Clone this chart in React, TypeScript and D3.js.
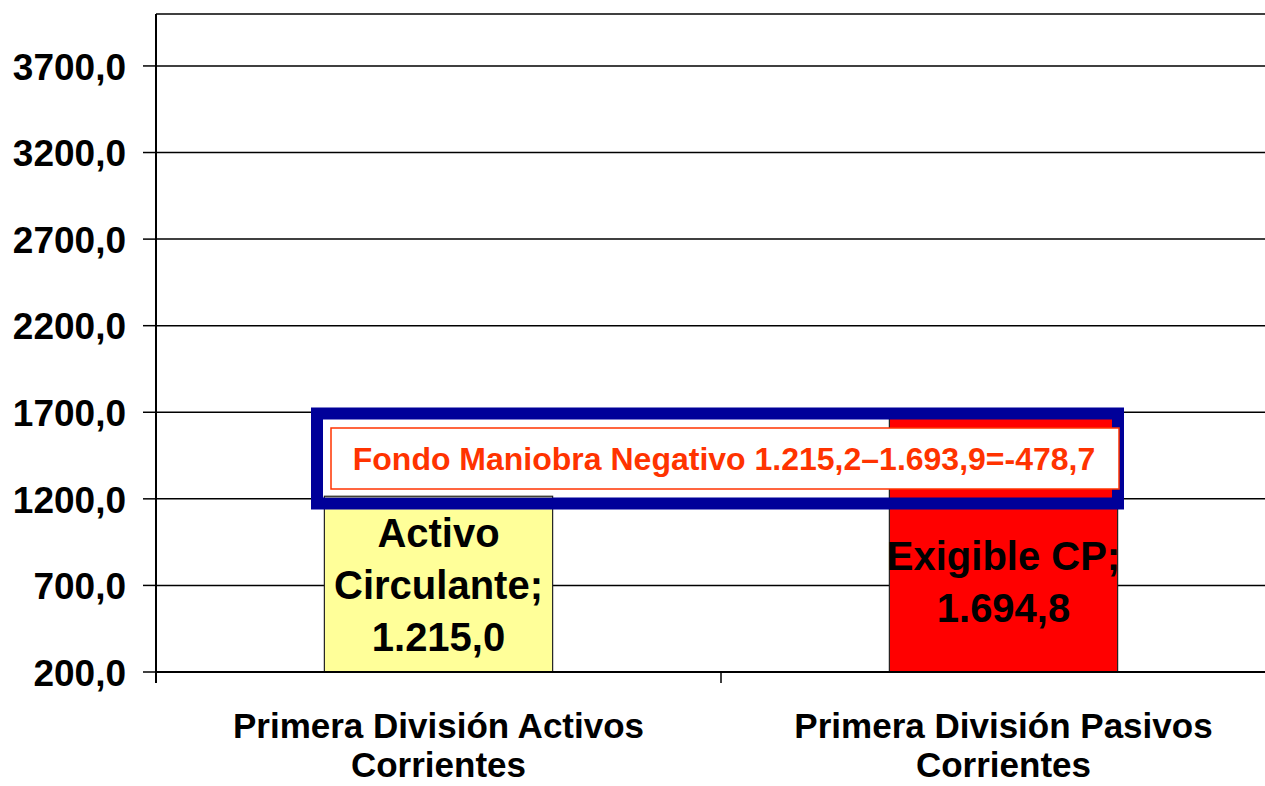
import React, { useEffect, useRef } from "react";
import * as d3 from "d3";

// data
const categories = ["Primera División Activos Corrientes", "Primera División Pasivos Corrientes"];
const categoryLines = [
  ["Primera División Activos", "Corrientes"],
  ["Primera División Pasivos", "Corrientes"],
];
const values = [1215.0, 1694.8];
const barLabels = [
  ["Activo", "Circulante;", "1.215,0"],
  ["Exigible CP;", "1.694,8"],
];
const barColors = ["#FFFF99", "#FF0000"];
const yTicks = [200, 700, 1200, 1700, 2200, 2700, 3200, 3700];
const yMin = 200;
const yMax = 4000;
const noteText = "Fondo Maniobra Negativo 1.215,2\u20131.693,9=-478,7";

const W = 1265,
  H = 786;

export default function App() {
  const ref = useRef<SVGSVGElement>(null);

  useEffect(() => {
    const svg = d3.select(ref.current);
    svg.selectAll("*").remove();

    const left = 156,
      right = 1286, // plot runs a little past the right edge
      top = 14,
      bottom = 672;

    const x = d3.scaleBand().domain(categories).range([left, right]).padding(0);
    const y = d3.scaleLinear().domain([yMin, yMax]).range([bottom, top]);
    const font = "Arial, 'Liberation Sans', sans-serif";

    // gridlines
    svg.append("g")
      .selectAll("line")
      .data(yTicks)
      .join("line")
      .attr("x1", left)
      .attr("x2", W)
      .attr("y1", (d) => y(d))
      .attr("y2", (d) => y(d))
      .attr("stroke", "#000")
      .attr("stroke-width", 1.5);

    // top border of plot
    svg.append("line")
      .attr("x1", left).attr("x2", W)
      .attr("y1", y(yMax)).attr("y2", y(yMax))
      .attr("stroke", "#000").attr("stroke-width", 1.5);

    // bars
    const barW = x.bandwidth() * 0.404;
    svg.append("g")
      .selectAll("rect")
      .data(values)
      .join("rect")
      .attr("x", (d, i) => x(categories[i])! + (x.bandwidth() - barW) / 2)
      .attr("y", (d) => y(d))
      .attr("width", barW)
      .attr("height", (d) => y(yMin) - y(d))
      .attr("fill", (d, i) => barColors[i])
      .attr("stroke", "#222")
      .attr("stroke-width", 1.2);

    // y axis
    svg.append("line")
      .attr("x1", left).attr("x2", left)
      .attr("y1", top).attr("y2", bottom + 11)
      .attr("stroke", "#000").attr("stroke-width", 2);
    svg.append("g")
      .selectAll("line")
      .data(yTicks)
      .join("line")
      .attr("x1", left - 13).attr("x2", left)
      .attr("y1", (d) => y(d)).attr("y2", (d) => y(d))
      .attr("stroke", "#000").attr("stroke-width", 1.5);
    svg.append("g")
      .selectAll("text")
      .data(yTicks)
      .join("text")
      .attr("x", 126)
      .attr("y", (d) => y(d))
      .attr("dy", "0.37em")
      .attr("text-anchor", "end")
      .style("font-family", font)
      .style("font-weight", "bold")
      .style("font-size", "37px")
      .text((d) => d3.format(".1f")(d).replace(".", ","));

    // x axis
    svg.append("line")
      .attr("x1", left).attr("x2", W)
      .attr("y1", bottom).attr("y2", bottom)
      .attr("stroke", "#000").attr("stroke-width", 2);
    svg.append("g")
      .selectAll("line")
      .data([...categories.map((c) => x(c)!), right])
      .join("line")
      .attr("x1", (d) => d).attr("x2", (d) => d)
      .attr("y1", bottom).attr("y2", bottom + 11)
      .attr("stroke", "#000").attr("stroke-width", 1.5);

    categories.forEach((c, i) => {
      const cx = x(c)! + x.bandwidth() / 2;
      categoryLines[i].forEach((line, j) => {
        svg.append("text")
          .attr("x", cx)
          .attr("y", 738 + j * 39)
          .attr("text-anchor", "middle")
          .style("font-family", font)
          .style("font-weight", "bold")
          .style("font-size", "35px")
          .text(line);
      });
    });

    // data labels
    const labelShift = [0, 39]; // second label sits lower than the bar middle
    values.forEach((v, i) => {
      const cx = x(categories[i])! + x.bandwidth() / 2;
      const mid = (y(v) + y(yMin)) / 2 + labelShift[i];
      const lines = barLabels[i];
      const step = 52;
      lines.forEach((line, j) => {
        svg.append("text")
          .attr("x", cx)
          .attr("y", mid + (j - (lines.length - 1) / 2) * step)
          .attr("dy", "0.36em")
          .attr("text-anchor", "middle")
          .style("font-family", font)
          .style("font-weight", "bold")
          .style("font-size", "40px")
          .attr("fill", "#000")
          .text(line);
      });
    });

    // annotation: blue frame and orange note box
    svg.append("rect")
      .attr("x", 317).attr("y", 413.5)
      .attr("width", 801).attr("height", 90)
      .attr("fill", "none")
      .attr("stroke", "#000099")
      .attr("stroke-width", 12);
    svg.append("rect")
      .attr("x", 331).attr("y", 428)
      .attr("width", 788).attr("height", 61)
      .attr("fill", "#fff")
      .attr("stroke", "#FF3300")
      .attr("stroke-width", 1.5);
    svg.append("text")
      .attr("x", 724).attr("y", 470)
      .attr("text-anchor", "middle")
      .style("font-family", font)
      .style("font-weight", "bold")
      .style("font-size", "32px")
      .attr("fill", "#FF3300")
      .text(noteText);
  }, []);

  return (
    <svg
      ref={ref}
      width={W}
      height={H}
      style={{ position: "absolute", left: 0, top: 0, background: "#fff" }}
    />
  );
}
